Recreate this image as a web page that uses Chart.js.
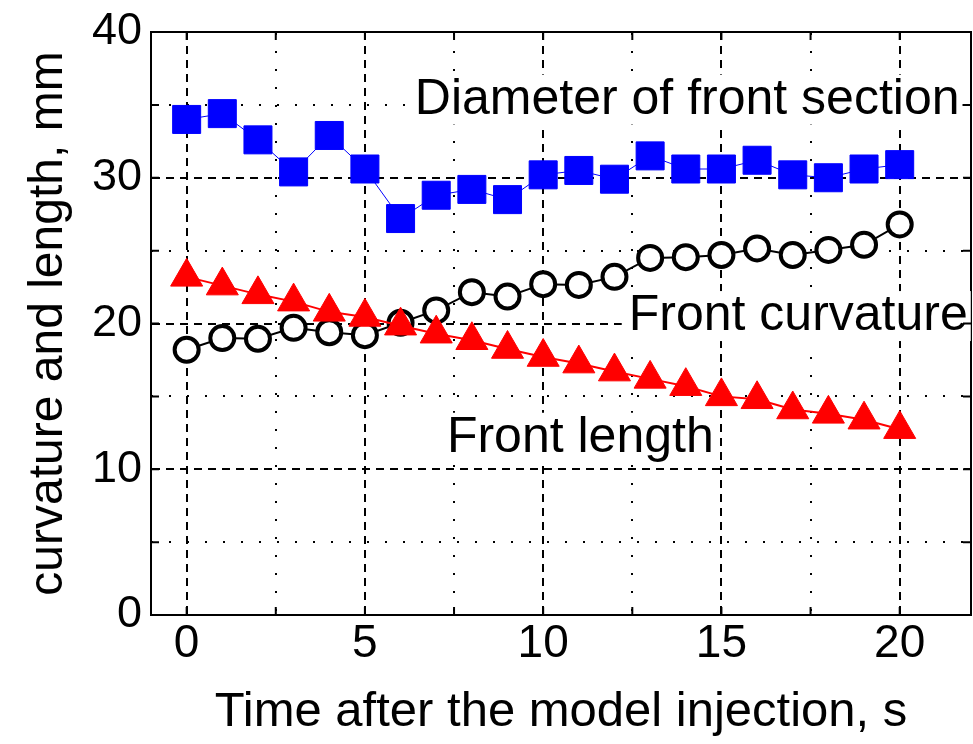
<!DOCTYPE html>
<html>
<head>
<meta charset="utf-8">
<script src="https://cdn.jsdelivr.net/npm/chart.js@4.4.1/dist/chart.umd.min.js"></script>
<style>
  html, body { margin: 0; padding: 0; background: #ffffff; }
  canvas { display: block; }
</style>
</head>
<body>
<canvas id="chart" width="973" height="744"></canvas>
<script>
// Time after the model injection, s
const timeSec = [0, 1, 2, 3, 4, 5, 6, 7, 8, 9, 10, 11, 12, 13, 14, 15, 16, 17, 18, 19, 20];

// Diameter of front section, mm
const diameterMm = [34.0, 34.4, 32.6, 30.4, 32.9, 30.6, 27.2, 28.8, 29.2, 28.5, 30.2,
                    30.5, 29.9, 31.5, 30.6, 30.6, 31.2, 30.2, 30.0, 30.6, 30.9];

// Front curvature, mm
const curvatureMm = [18.2, 19.0, 18.95, 19.7, 19.4, 19.2, 20.05, 20.9, 22.15, 21.85, 22.7,
                     22.65, 23.2, 24.5, 24.55, 24.7, 25.15, 24.7, 25.05, 25.4, 26.8];

// Front length, mm
const lengthMm = [23.2, 22.6, 22.0, 21.5, 20.8, 20.45, 19.85, 19.3, 18.85, 18.25, 17.7,
                  17.25, 16.7, 16.2, 15.7, 15.0, 14.8, 14.1, 13.8, 13.4, 12.75];

// In-plot captions: text, left edge (s) and baseline (mm)
const noteTexts = ['Diameter of front section', 'Front curvature', 'Front length'];
const noteLeft = [6.4, 12.4, 7.3];
const noteBase = [34.4, 19.55, 11.2];

const FONT = "'Liberation Sans', Arial, sans-serif";

function pairs(xs, ys) {
  return xs.map((x, i) => ({ x: x, y: ys[i] }));
}

// Keep the plot frame exactly where the axis boxes put it
function noEdgePadding(scale) {
  scale.paddingLeft = 0;
  scale.paddingRight = 0;
  scale.paddingTop = 0;
  scale.paddingBottom = 0;
}

// Captions sit on white boxes that hide the grid behind them
const notesPlugin = {
  id: 'notes',
  beforeDatasetsDraw(chart) {
    const ctx = chart.ctx;
    const xs = chart.scales.x, ys = chart.scales.y;
    const size = 50;
    ctx.save();
    ctx.font = size + 'px ' + FONT;
    ctx.textBaseline = 'alphabetic';
    ctx.textAlign = 'left';
    noteTexts.forEach((t, i) => {
      const px = xs.getPixelForValue(noteLeft[i]);
      const py = ys.getPixelForValue(noteBase[i]);
      const w = ctx.measureText(t).width;
      ctx.fillStyle = '#ffffff';
      ctx.fillRect(px - 7, py - size * 0.78, w + 10, size * 1.0);
      ctx.fillStyle = '#000000';
      ctx.fillText(t, px, py);
    });
    ctx.restore();
  }
};

// Short inward tick marks along all four sides of the frame
const innerTicksPlugin = {
  id: 'innerTicks',
  afterDatasetsDraw(chart) {
    const ctx = chart.ctx;
    const a = chart.chartArea;
    const len = 8;
    ctx.save();
    ctx.strokeStyle = '#000000';
    ctx.lineWidth = 2;
    ctx.beginPath();
    chart.scales.xMinor.ticks.forEach((t) => {
      const px = chart.scales.x.getPixelForValue(t.value);
      ctx.moveTo(px, a.bottom); ctx.lineTo(px, a.bottom - len);
      ctx.moveTo(px, a.top); ctx.lineTo(px, a.top + len);
    });
    chart.scales.yMinor.ticks.forEach((t) => {
      const py = chart.scales.y.getPixelForValue(t.value);
      ctx.moveTo(a.left, py); ctx.lineTo(a.left + len, py);
      ctx.moveTo(a.right, py); ctx.lineTo(a.right - len, py);
    });
    ctx.stroke();
    ctx.restore();
  }
};

const clear = 'rgba(0,0,0,0)';

new Chart(document.getElementById('chart'), {
  type: 'line',
  data: {
    datasets: [
      {
        label: 'Front length',
        data: pairs(timeSec, lengthMm),
        order: 0,
        borderColor: '#ff0000',
        borderWidth: 2,
        backgroundColor: '#ff0000',
        pointStyle: 'triangle',
        pointRadius: 18.5,
        pointBorderWidth: 1,
        pointBackgroundColor: '#ff0000',
        pointBorderColor: '#ff0000',
        tension: 0
      },
      {
        label: 'Front curvature',
        data: pairs(timeSec, curvatureMm),
        order: 1,
        borderColor: '#000000',
        borderWidth: 2,
        pointStyle: 'circle',
        pointRadius: 12,
        pointBorderWidth: 4,
        pointBackgroundColor: '#ffffff',
        pointBorderColor: '#000000',
        tension: 0
      },
      {
        label: 'Diameter of front section',
        data: pairs(timeSec, diameterMm),
        order: 2,
        borderColor: '#0000ff',
        borderWidth: 1,
        pointStyle: 'rect',
        pointRadius: 19.8,
        pointBorderWidth: 1,
        pointBackgroundColor: '#0000ff',
        pointBorderColor: '#0000ff',
        tension: 0
      }
    ]
  },
  options: {
    responsive: false,
    animation: false,
    events: [],
    layout: { autoPadding: false, padding: { top: 32, right: 2, left: 0, bottom: 0 } },
    plugins: {
      legend: { display: false },
      tooltip: { enabled: false }
    },
    scales: {
      x: {
        type: 'linear',
        position: 'bottom',
        min: -1,
        max: 22,
        ticks: {
          stepSize: 5,
          includeBounds: false,
          color: '#000000',
          padding: 2,
          font: { family: FONT, size: 46 }
        },
        grid: {
          color: '#000000',
          lineWidth: 2,
          drawTicks: false
        },
        border: { display: true, color: '#000000', width: 2, dash: [8, 6] },
        title: {
          display: true,
          text: 'Time after the model injection, s',
          color: '#000000',
          font: { family: FONT, size: 49 },
          padding: { top: 0, bottom: 2 }
        },
        afterFit(scale) { scale.height = 129; noEdgePadding(scale); }
      },
      xMinor: {
        type: 'linear',
        position: 'top',
        min: -1,
        max: 22,
        ticks: { display: false, stepSize: 2.5, includeBounds: false },
        grid: {
          color: (c) => (c.tick && c.tick.value % 5 === 0) ? clear : '#000000',
          lineWidth: 2,
          drawTicks: false
        },
        border: { display: true, color: '#000000', width: 2, dash: [2, 16] },
        afterFit(scale) { scale.height = 0; noEdgePadding(scale); }
      },
      y: {
        type: 'linear',
        position: 'left',
        min: 0,
        max: 40,
        ticks: {
          stepSize: 10,
          color: '#000000',
          padding: 9,
          font: { family: FONT, size: 45 }
        },
        grid: {
          color: (c) => (c.tick && (c.tick.value === 0 || c.tick.value === 40)) ? clear : '#000000',
          lineWidth: 2,
          drawTicks: false
        },
        border: { display: true, color: '#000000', width: 2, dash: [8, 6] },
        title: {
          display: true,
          text: 'curvature and length, mm',
          color: '#000000',
          font: { family: FONT, size: 48 },
          padding: { top: 20, bottom: 0 }
        },
        afterFit(scale) { scale.width = 151; noEdgePadding(scale); }
      },
      yMinor: {
        type: 'linear',
        position: 'right',
        min: 0,
        max: 40,
        ticks: { display: false, stepSize: 5 },
        grid: {
          color: (c) => (c.tick && c.tick.value % 10 === 0) ? clear : '#000000',
          lineWidth: 2,
          drawTicks: false
        },
        border: { display: true, color: '#000000', width: 2, dash: [2, 16] },
        afterFit(scale) { scale.width = 0; noEdgePadding(scale); }
      }
    }
  },
  plugins: [notesPlugin, innerTicksPlugin]
});
</script>
</body>
</html>
